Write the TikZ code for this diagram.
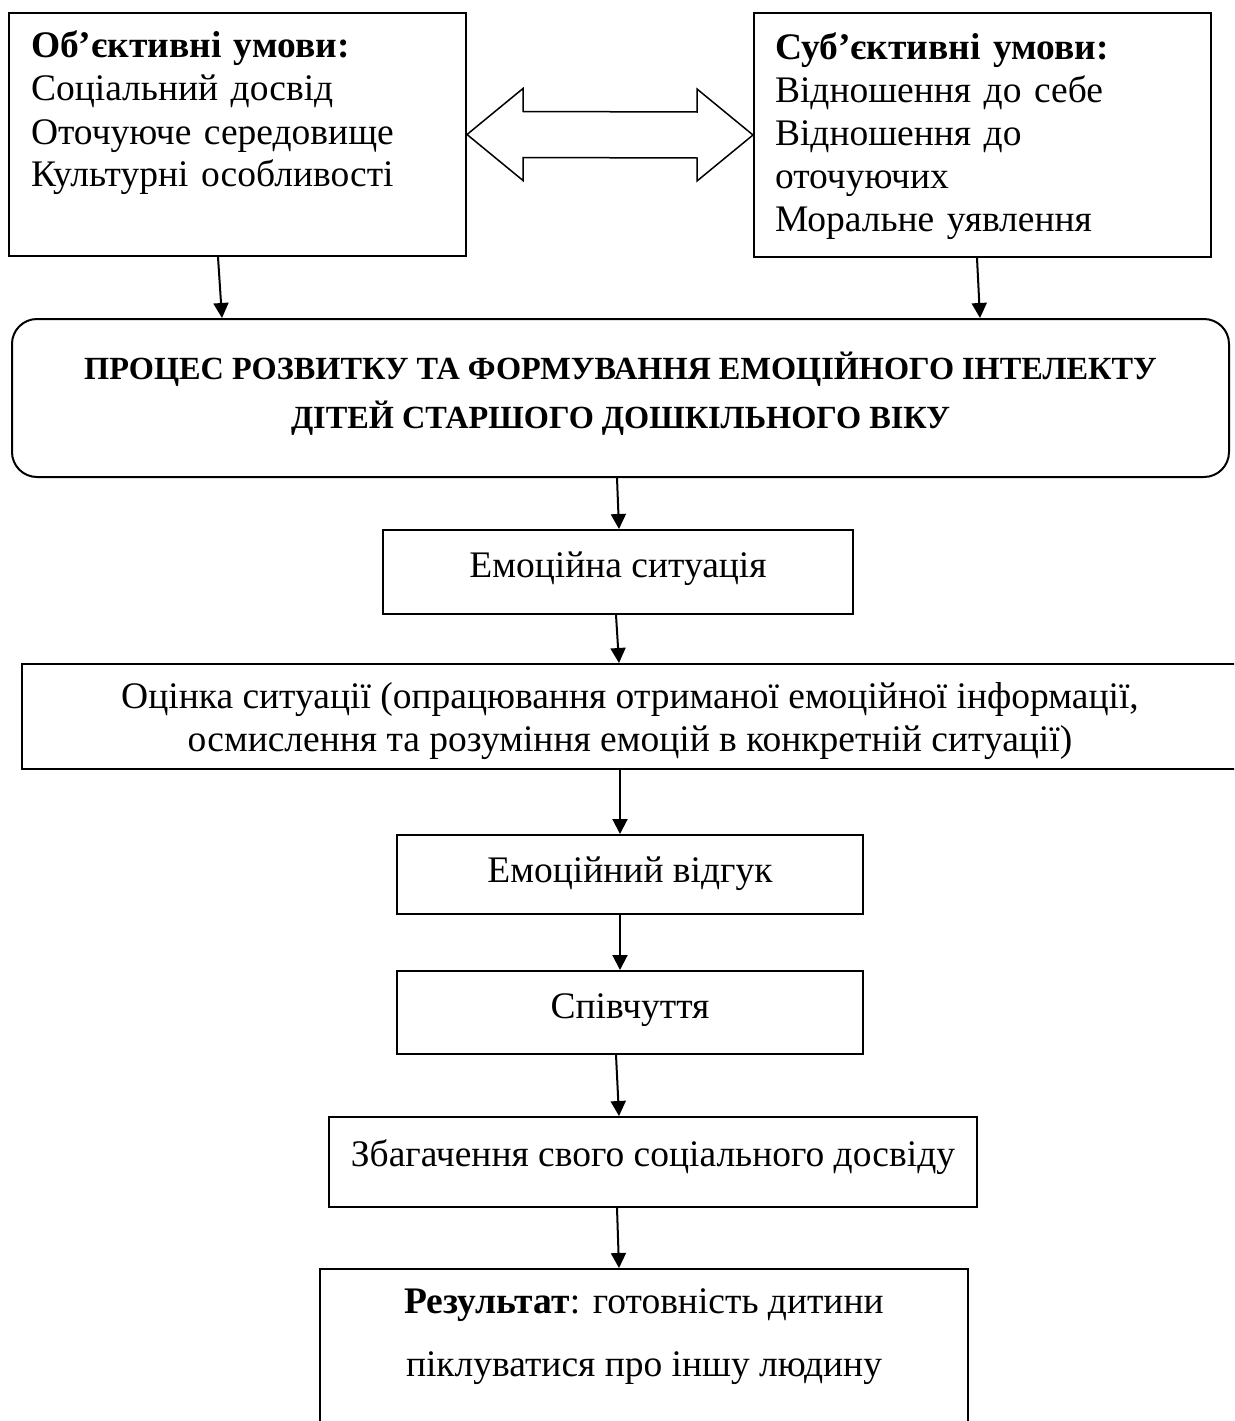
\documentclass[tikz,border=0pt]{standalone}
\usepackage{fontspec}
\setmainfont{Liberation Serif}
\usetikzlibrary{arrows.meta,calc}

\tikzset{
  box/.style={draw, line width=2pt, inner xsep=0pt, inner ysep=0pt,
    font=\fontsize{37.5}{43}\selectfont},
  arr/.style={line width=2pt, -{Triangle[length=15pt,width=15pt]}},
}

\begin{document}
\begin{tikzpicture}[x=1pt, y=-1pt]
    \useasboundingbox (0,0) rectangle (1234,1421);
    \clip (0,0) rectangle (1234,1421);
    % conditions
    \node[box, minimum width=457pt, minimum height=243pt, text width=413pt, align=left] (obj) at (237.5,134.5)
        {\rule{0pt}{30pt}\textbf{Об’єктивні умови:}\\ Соціальний досвід\\ Оточуюче середовище\\ Культурні особливості\rule[-54pt]{0pt}{54pt}};
    \node[box, minimum width=457pt, minimum height=244pt, text width=415pt, align=left] (subj) at (982.5,135)
        {\rule{0pt}{30pt}\textbf{Суб’єктивні умови:}\\ Відношення до себе\\ Відношення до\\ оточуючих\\ Моральне уявлення\rule[-8pt]{0pt}{8pt}};
    \draw[line width=1.5pt, fill=white] (obj.east) -- ++(56,-46) -- ++(0,23) -- ($(subj.west)+(-56,-23)$)
        -- ++(0,-23) -- (subj.west) -- ++(-56,46) -- ++(0,-23) -- ($(obj.east)+(56,23)$) -- ++(0,23) -- cycle;
    % process
    \node[box, rounded corners=25pt, minimum width=1217pt, minimum height=158pt, align=center,
        font=\fontsize{32.3}{49}\selectfont\bfseries] (proc) at (620.5,398)
        {\rule{0pt}{35pt}ПРОЦЕС РОЗВИТКУ ТА ФОРМУВАННЯ ЕМОЦІЙНОГО ІНТЕЛЕКТУ\\ ДІТЕЙ СТАРШОГО ДОШКІЛЬНОГО ВІКУ\rule[-24pt]{0pt}{24pt}};
    % chain
    \node[box, anchor=north, minimum width=470pt, text height=47pt, text depth=37pt] (sit) at (618,529) {Емоційна ситуація};
    \node[box, minimum width=1216pt, minimum height=105pt, align=center] (eval) at (630,716.5)
        {\rule{0pt}{36pt}Оцінка ситуації (опрацювання отриманої емоційної інформації,\\ осмислення та розуміння емоцій в конкретній ситуації)\rule[-6pt]{0pt}{6pt}};
    \node[box, anchor=north, minimum width=466pt, text height=47pt, text depth=32pt] (resp) at (630,834) {Емоційний відгук};
    \node[box, anchor=north, minimum width=466pt, text height=47pt, text depth=36pt] (symp) at (630,970) {Співчуття};
    \node[box, anchor=north, minimum width=648pt, text height=49pt, text depth=41pt] (enr) at (653,1116) {Збагачення свого соціального досвіду};
    \node[box, anchor=north, minimum width=648pt, minimum height=200pt, align=center,
        font=\fontsize{37.5}{63}\selectfont] (res) at (644,1268)
        {\rule{0pt}{30pt}\textbf{Результат}: готовність дитини\\ піклуватися про іншу людину\rule[-79pt]{0pt}{79pt}};
    % arrows
    \draw[arr] (obj.south -| 218,0) -- (proc.north -| 222,0);
    \draw[arr] (subj.south -| 977,0) -- (proc.north -| 980,0);
    \draw[arr] (proc.south -| 617,0) -- (sit.north -| 619,0);
    \draw[arr] (sit.south -| 616,0) -- (eval.north -| 619,0);
    \draw[arr] (eval.south -| 620,0) -- (resp.north -| 620,0);
    \draw[arr] (resp.south -| 620,0) -- (symp.north -| 620,0);
    \draw[arr] (symp.south -| 616,0) -- (enr.north -| 619,0);
    \draw[arr] (enr.south -| 617,0) -- (res.north -| 619,0);
\end{tikzpicture}
\end{document}
